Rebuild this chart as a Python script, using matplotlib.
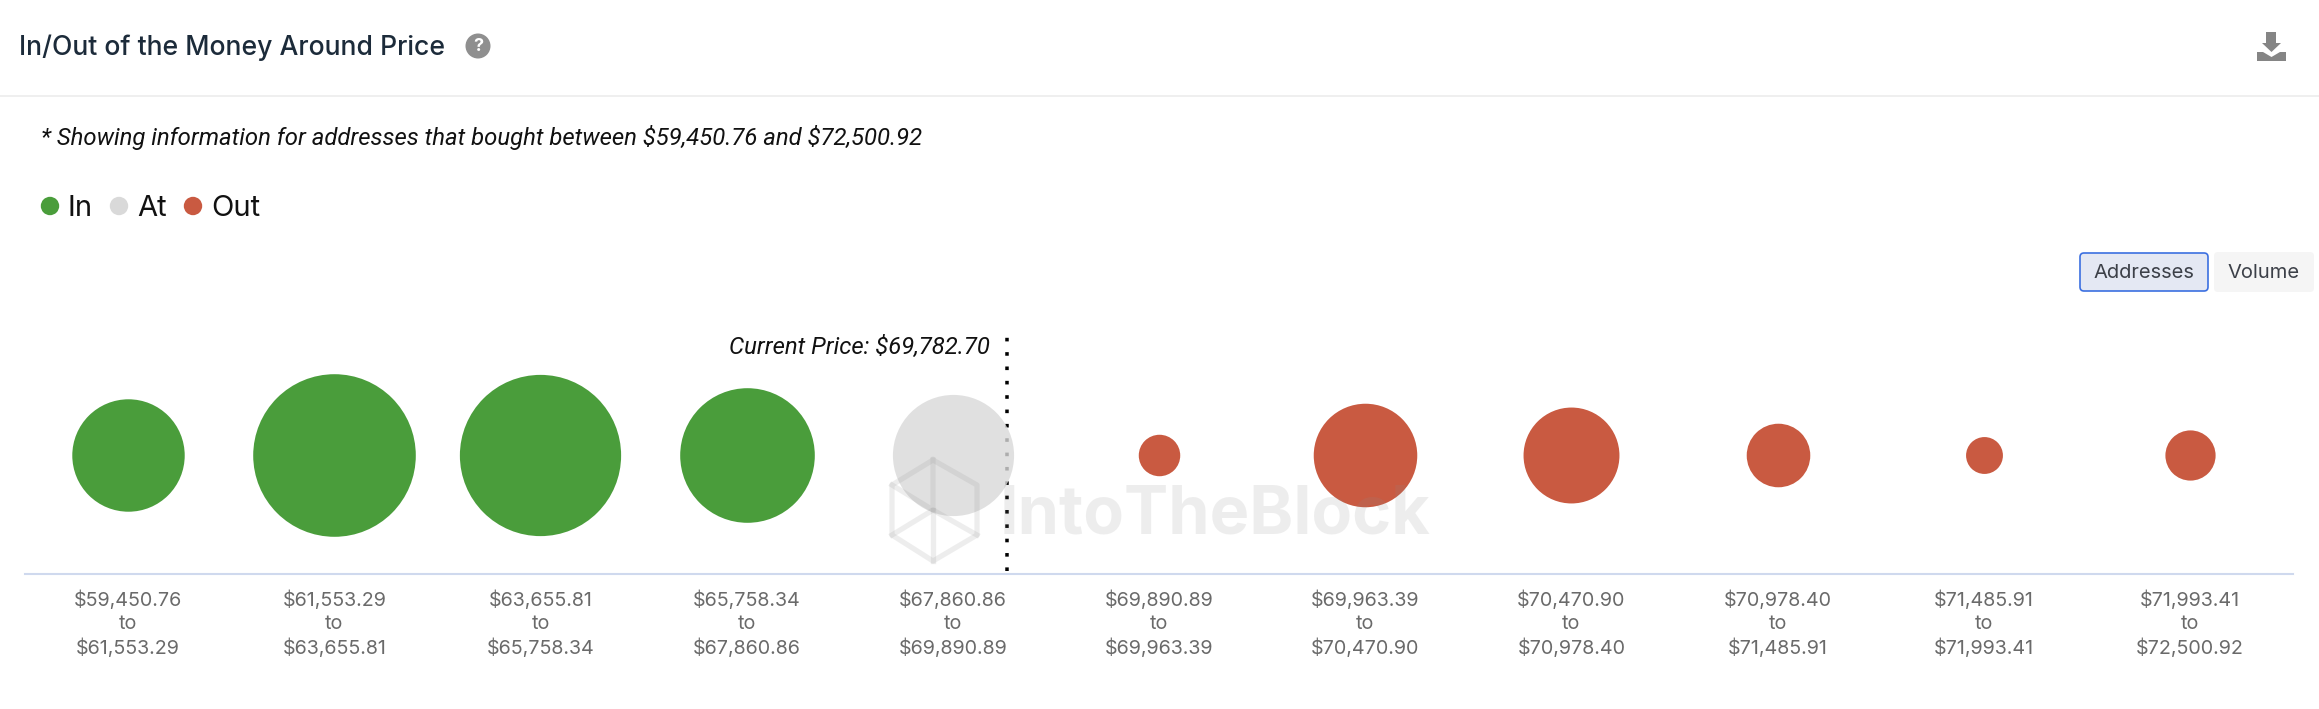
import matplotlib
matplotlib.use("Agg")
import matplotlib.pyplot as plt
from matplotlib.patches import Circle, FancyBboxPatch, Polygon

# ---- data -------------------------------------------------------------
range_low = ["$59,450.76", "$61,553.29", "$63,655.81", "$65,758.34", "$67,860.86", "$69,890.89",
             "$69,963.39", "$70,470.90", "$70,978.40", "$71,485.91", "$71,993.41"]
range_high = ["$61,553.29", "$63,655.81", "$65,758.34", "$67,860.86", "$69,890.89", "$69,963.39",
              "$70,470.90", "$70,978.40", "$71,485.91", "$71,993.41", "$72,500.92"]
# bubble areas (relative units)
addresses = [3160, 6610, 6500, 4530, 3670, 430, 2680, 2300, 1010, 340, 630]
status = ["In", "In", "In", "In", "At", "Out", "Out", "Out", "Out", "Out", "Out"]
legend_labels = ["In", "At", "Out"]
current_price_label = r"Current Price: \$69,782.70"
note_label = r"* Showing information for addresses that bought between \$59,450.76 and \$72,500.92"
current_price_pos = 4.265

colors = {"In": "#4a9d3b", "At": "#d9d9d9", "Out": "#c95a41"}
alphas = {"In": 1.0, "At": 0.8, "Out": 1.0}

W, H = 2319, 709
plt.rcParams["font.family"] = ["Inter", "DejaVu Sans"]
fig = plt.figure(figsize=(W / 100, H / 100), dpi=100, facecolor="white")

# ---- chart axes --------------------------------------------------------
L, R, T, B = 25, 2293, 320, 574
ax = fig.add_axes([L / W, 1 - B / H, (R - L) / W, (B - T) / H])
ax.set_xlim(-0.5, 10.5)
ax.set_ylim(-119, 135)
ax.patch.set_alpha(0)
for s in ("top", "left", "right"):
    ax.spines[s].set_visible(False)
ax.spines["bottom"].set_color("#cfd9ee")
ax.spines["bottom"].set_linewidth(1.5)
ax.set_yticks([])
xs = list(range(len(addresses)))
ax.set_xticks(xs)
ax.set_xticklabels([f"{a}\nto\n{b}".replace("$", r"\$") for a, b in zip(range_low, range_high)],
                   fontsize=14.2, color="#6a6a6a", linespacing=1.36)
ax.tick_params(axis="x", length=0, pad=12)

# dotted current-price line (beneath the bubbles)
ax.plot([current_price_pos] * 2, [-116, 120], color="black", lw=2.52,
        dashes=(1.03, 3.07), dash_capstyle="butt", zorder=1)

px2pt = 0.72
for x, v, st in zip(xs, addresses, status):
    ax.scatter([x], [0], s=4 * v * px2pt ** 2, color=colors[st], alpha=alphas[st],
               linewidths=0, zorder=2)

ax.annotate(current_price_label, xy=(current_price_pos, 1), xycoords=("data", "axes fraction"),
            xytext=(-18, -27), textcoords="offset pixels", ha="right", va="center",
            fontsize=17.2, style="italic", family=["Roboto", "DejaVu Sans"], color="#111111")

# ---- page furniture in pixel coordinates -------------------------------
ov = fig.add_axes([0, 0, 1, 1], zorder=5)
ov.set_xlim(0, W)
ov.set_ylim(H, 0)
ov.axis("off")
ov.patch.set_alpha(0)

ov.text(19, 48, "In/Out of the Money Around Price", fontsize=19.15, color="#1c2b3a",
        va="center", ha="left", fontweight="medium")
ov.add_patch(Circle((478, 46), 12.5, color="#8f8f8f", lw=0))
ov.text(478, 46.5, "?", fontsize=13, color="white", ha="center", va="center", fontweight="bold")
ov.plot([0, W], [96, 96], color="#ececec", lw=1.2)

# download icon
icon = "#858585"
ov.add_patch(Polygon([(2266, 32), (2276, 32), (2276, 43), (2281, 43), (2271.5, 52), (2262, 43), (2266, 43)],
                     color=icon, lw=0))
ov.add_patch(Polygon([(2257, 52), (2263, 52), (2271.5, 57), (2280, 52), (2286, 52), (2286, 61), (2257, 61)],
                     color=icon, lw=0))

ov.text(41, 137, note_label, fontsize=17.2, style="italic", family=["Roboto", "DejaVu Sans"],
        color="#111111", va="center", ha="left")

# legend
legend_dot_x = [50, 119, 193]
legend_text_x = [68, 137, 211]
for dx, tx, lab in zip(legend_dot_x, legend_text_x, legend_labels):
    ov.add_patch(Circle((dx, 206), 9.2, color=colors[lab], lw=0))
    ov.text(tx, 208.5, lab, fontsize=21, color="#111111", va="center", ha="left")

# toggle buttons
ov.add_patch(FancyBboxPatch((2080, 253), 128, 38, boxstyle="round,pad=0,rounding_size=4",
                            fc="#e4e8f3", ec="#3b6fe0", lw=1.2))
ov.text(2144, 273, "Addresses", fontsize=14.5, color="#3c4048", ha="center", va="center")
ov.add_patch(FancyBboxPatch((2214, 252), 100, 40, boxstyle="round,pad=0,rounding_size=4",
                            fc="#f5f5f5", ec="none"))
ov.text(2264, 273, "Volume", fontsize=14.5, color="#3c4048", ha="center", va="center")

# watermark
wm = "#8c8c8c"
ov.text(1000, 516, "IntoTheBlock", fontsize=47.9, fontweight="bold", color=wm, alpha=0.15,
        ha="left", va="center")
ov.plot([933, 977, 977, 933, 892, 892, 933], [460, 485, 535, 561, 535, 485, 460], color=wm,
        alpha=0.15, lw=3.8)
ov.plot([892, 933, 977], [535, 510, 535], color=wm, alpha=0.15, lw=3.8)
ov.plot([933, 933], [510, 561], color=wm, alpha=0.15, lw=3.8)
ov.plot([892, 933, 933], [485, 510, 460], color=wm, alpha=0.15, lw=3.8)

fig.savefig("out.png", dpi=100, facecolor="white")
